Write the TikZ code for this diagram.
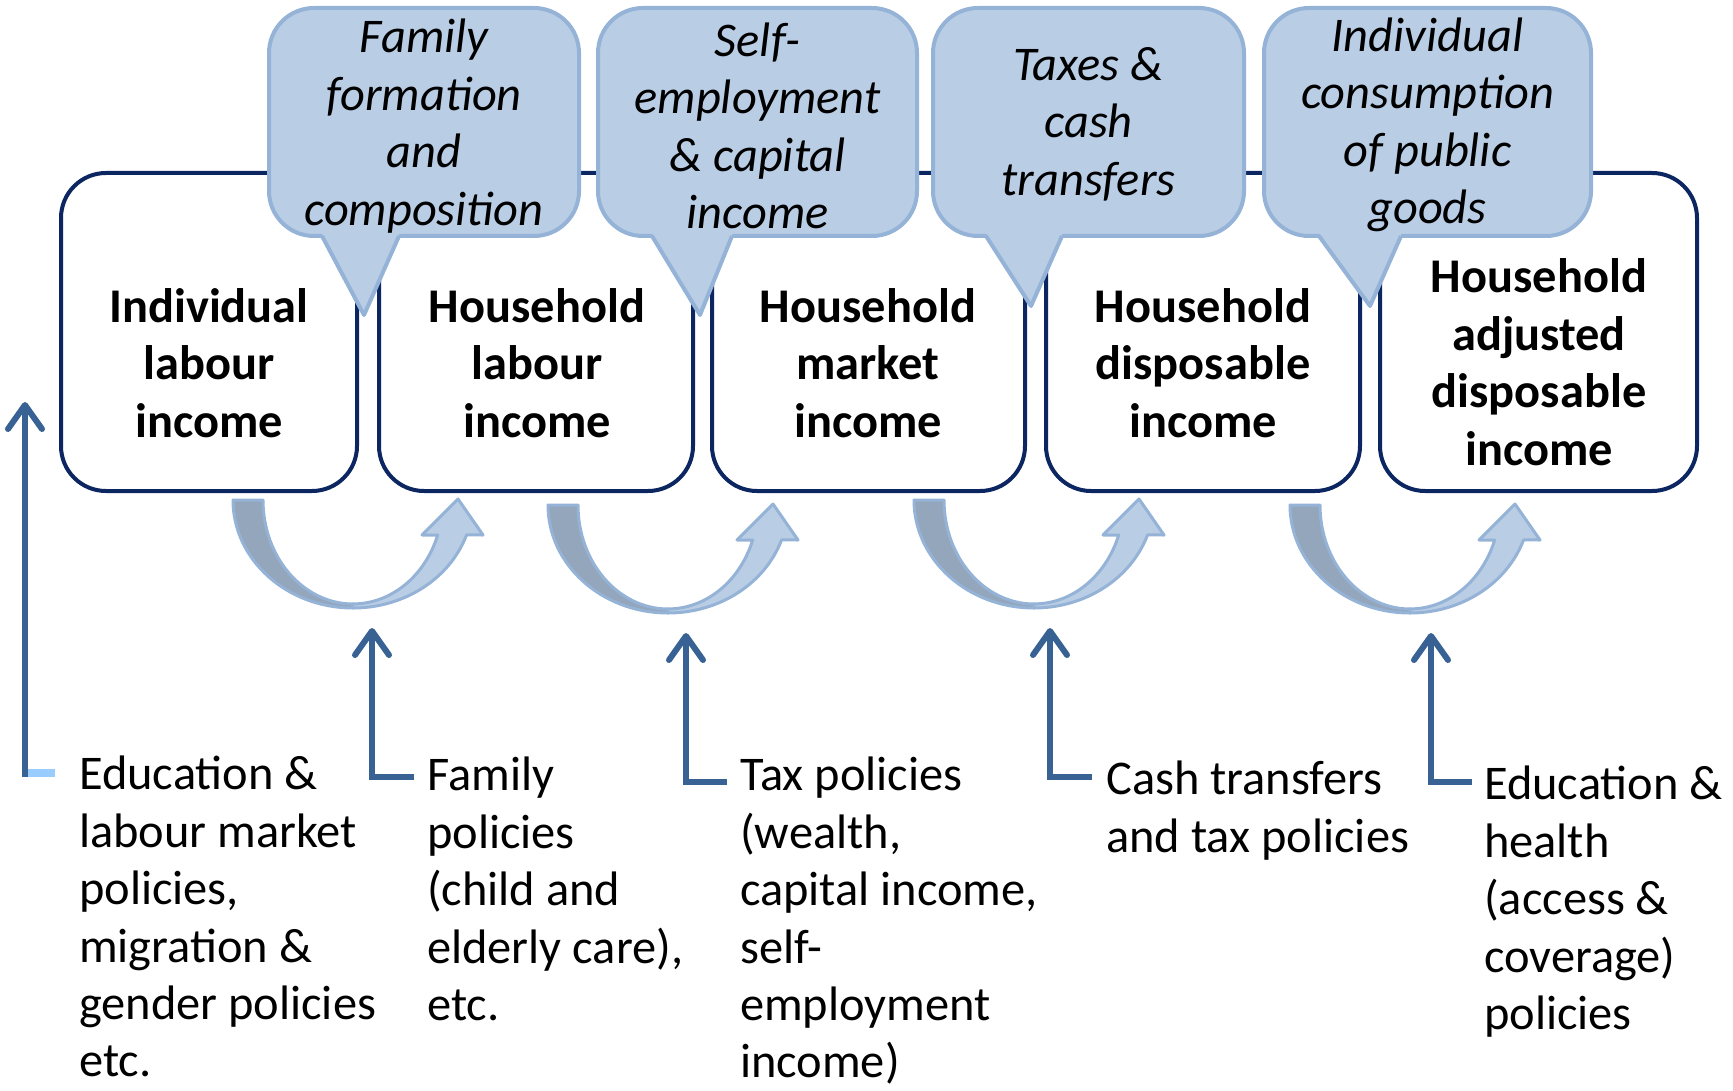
\documentclass[tikz,border=0pt]{standalone}
\usepackage{fontspec}
\setmainfont{Carlito}
\usetikzlibrary{arrows.meta}
\definecolor{navy}{RGB}{12,38,98}
\definecolor{cfill}{HTML}{B9CDE5}
\definecolor{cline}{HTML}{95B3D7}
\definecolor{polc}{HTML}{386194}
\definecolor{stubc}{HTML}{99CCFF}
\definecolor{udark}{HTML}{93A6BC}
\begin{document}
\begin{tikzpicture}[x=1pt,y=-1pt,
  incbox/.style={draw=navy, line width=4pt, rounded corners=45pt, fill=white, minimum height=318pt, inner sep=0pt},
  boxtext/.style={font=\fontsize{48.4pt}{57.5pt}\selectfont\bfseries, align=center, inner sep=0pt},
  callbox/.style={draw=cline, fill=cfill, line width=4pt, rounded corners=45pt, minimum height=228pt, inner sep=0pt},
  calltext/.style={font=\fontsize{48.4pt}{57.5pt}\selectfont\itshape, align=center, inner sep=0pt},
  pointer/.style={draw=cline, line width=4pt, line join=round},
  poltext/.style={font=\fontsize{48.4pt}{57.4pt}\selectfont, align=left, anchor=north west, inner sep=0pt},
  polarrow/.style={draw=polc, line width=6pt, -{Straight Barb[length=24pt,width=34pt,round]}},
  uturn/.pic={
    \filldraw[draw=cline, fill=udark, line width=3pt, line join=round]
      (0,0) -- (30,0) arc[start angle=180, end angle=90, x radius=90, y radius=104]
      -- (120,108) arc[start angle=90, end angle=180, x radius=120, y radius=108] -- cycle;
    \filldraw[draw=cline, fill=cfill, line width=3pt, line join=round]
      (120,108) arc[start angle=90, end angle=18.9, x radius=120, y radius=108]
      -- (250,35) -- (225,-1) -- (189,35) -- (204.7,35)
      arc[start angle=19.7, end angle=90, x radius=90, y radius=104] -- cycle;
  }
]
\useasboundingbox (0,0) rectangle (1733,1091);

% income boxes
\node[incbox, minimum width=296pt] (b1) at (209,332) {};
\node[incbox, minimum width=314pt] (b2) at (536,332) {};
\node[incbox, minimum width=313pt] (b3) at (868.5,332) {};
\node[incbox, minimum width=314pt] (b4) at (1203,332) {};
\node[incbox, minimum width=317pt] (b5) at (1538.5,332) {};

% callouts
\node[callbox, minimum width=310pt] (c1) at (424,122) {};
\node[callbox, minimum width=319pt] (c2) at (757.5,122) {};
\node[callbox, minimum width=311pt] (c3) at (1088.5,122) {};
\node[callbox, minimum width=327pt] (c4) at (1427.5,122) {};

\coordinate (q1) at (364,315);
\coordinate (q2) at (700,315);
\coordinate (q3) at (1031,306);
\coordinate (q4) at (1370,306);
\fill[cfill] (320,230) -- (401,230) -- (q1) -- cycle;
\draw[pointer] (322,236) -- (q1) -- (399,236);
\fill[cfill] (650,230) -- (734,230) -- (q2) -- cycle;
\draw[pointer] (652,236) -- (q2) -- (732,236);
\fill[cfill] (984,230) -- (1064,230) -- (q3) -- cycle;
\draw[pointer] (986,236) -- (q3) -- (1062,236);
\fill[cfill] (1317,230) -- (1403,230) -- (q4) -- cycle;
\draw[pointer] (1319,236) -- (q4) -- (1401,236);

\node[calltext] (ct1) at ([yshift=-4pt]c1.center) {Family\\formation\\and\\composition};
\node[calltext] (ct2) at ([yshift=-4pt]c2.center) {Self-\\employment\\\& capital\\income};
\node[calltext] (ct3) at ([yshift=-2pt]c3.center) {Taxes \&\\cash\\transfers};
\node[calltext] (ct4) at ([yshift=-3pt]c4.center) {Individual\\consumption\\of public\\goods};

% box texts
\node[boxtext] (t1) at (209,363) {Individual\\labour\\income};
\node[boxtext] (t2) at (537,363) {Household\\labour\\income};
\node[boxtext] (t3) at (868,363) {Household\\market\\income};
\node[boxtext] (t4) at (1203,363) {Household\\disposable\\income};
\node[boxtext] (t5) at (1539,362) {Household\\adjusted\\disposable\\income};

% U-turn arrows
\pic (u1) at (233,500) {uturn};
\pic (u2) at (548,505) {uturn};
\pic (u3) at (914,500) {uturn};
\pic (u4) at (1290,505) {uturn};

% policy texts
\node[poltext] (p0) at (79,756) {Education \&\\labour market\\policies,\\migration \&\\gender policies\\etc.};
\node[poltext] (p1) at (427,757) {Family\\policies\\(child and\\elderly care),\\etc.};
\node[poltext] (p2) at (740,757) {Tax policies\\(wealth,\\capital income,\\self-\\employment\\income)};
\node[poltext] (p3) at (1106,761) {Cash transfers\\and tax policies};
\node[poltext] (p4) at (1484,766) {Education \&\\health\\(access \&\\coverage)\\policies};

% policy arrows
\coordinate (a0) at (25,402);
\coordinate (e0) at (55,773);
\coordinate (k0) at (25,777);
\draw[stubc, line width=8pt] (e0) -- (28,773);
\draw[polarrow] (k0) -- (a0);

\coordinate (a1) at (372,628);
\coordinate (e1) at (414,777);
\draw[polarrow] (e1) -| (a1);
\coordinate (a2) at (686,633);
\coordinate (e2) at (727,782);
\draw[polarrow] (e2) -| (a2);
\coordinate (a3) at (1050,628);
\coordinate (e3) at (1092,777);
\draw[polarrow] (e3) -| (a3);
\coordinate (a4) at (1431,633);
\coordinate (e4) at (1472,782);
\draw[polarrow] (e4) -| (a4);
\end{tikzpicture}
\end{document}
